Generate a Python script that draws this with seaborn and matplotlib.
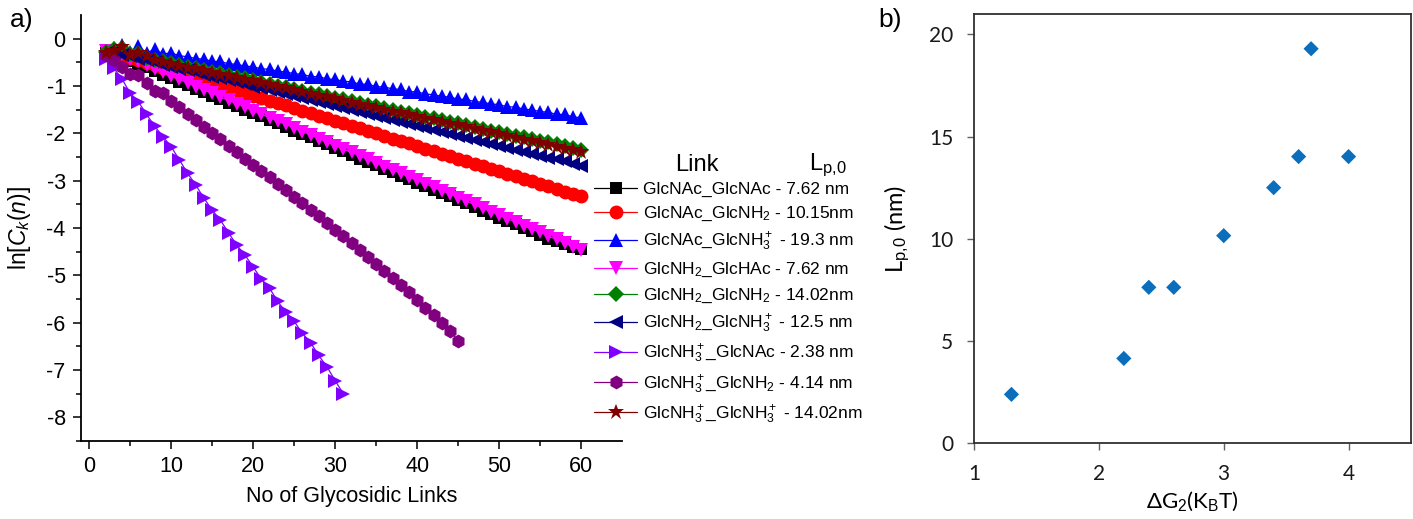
import numpy as np
import pandas as pd
import matplotlib
matplotlib.use("Agg")
import matplotlib.pyplot as plt
import seaborn as sns

# ---------------- data: panel a ----------------
n_links = list(range(2, 61))
n_short = list(range(2, 32))
n_mid = list(range(2, 46))

glcnac_glcnac = [-0.30, -0.30, -0.38, -0.47, -0.53, -0.60, -0.69, -0.76, -0.84, -0.91, -0.98, -1.06, -1.13, -1.20,
                 -1.28, -1.35, -1.42, -1.50, -1.57, -1.64, -1.72, -1.79, -1.86, -1.94, -2.01, -2.08, -2.16, -2.23,
                 -2.31, -2.38, -2.45, -2.53, -2.60, -2.67, -2.75, -2.82, -2.89, -2.97, -3.04, -3.11, -3.19, -3.26,
                 -3.33, -3.41, -3.48, -3.55, -3.63, -3.70, -3.78, -3.85, -3.92, -4.00, -4.07, -4.14, -4.22, -4.28,
                 -4.34, -4.40, -4.45]
glcnac_glcnh2 = [-0.28, -0.30, -0.35, -0.40, -0.45, -0.51, -0.56, -0.61, -0.67, -0.72, -0.77, -0.83, -0.88, -0.93,
                 -0.99, -1.04, -1.09, -1.15, -1.20, -1.25, -1.31, -1.36, -1.41, -1.47, -1.52, -1.57, -1.63, -1.68,
                 -1.73, -1.79, -1.84, -1.89, -1.95, -2.00, -2.05, -2.11, -2.16, -2.21, -2.27, -2.32, -2.37, -2.43,
                 -2.48, -2.53, -2.59, -2.64, -2.69, -2.75, -2.80, -2.85, -2.91, -2.96, -3.01, -3.07, -3.12, -3.17,
                 -3.23, -3.28, -3.33]
glcnac_glcnh3 = [-0.28, -0.20, -0.14, -0.28, -0.15, -0.30, -0.22, -0.32, -0.30, -0.36, -0.38, -0.42, -0.43, -0.48,
                 -0.48, -0.53, -0.54, -0.58, -0.59, -0.64, -0.64, -0.69, -0.70, -0.74, -0.75, -0.80, -0.80, -0.85,
                 -0.86, -0.90, -0.91, -0.96, -0.96, -1.01, -1.02, -1.06, -1.07, -1.12, -1.12, -1.17, -1.18, -1.22,
                 -1.23, -1.28, -1.28, -1.33, -1.34, -1.38, -1.39, -1.44, -1.44, -1.49, -1.50, -1.54, -1.55, -1.60,
                 -1.60, -1.65, -1.67]
glcnh2_glchac = [-0.25, -0.25, -0.33, -0.42, -0.48, -0.55, -0.64, -0.71, -0.79, -0.86, -0.93, -1.01, -1.08, -1.15,
                 -1.23, -1.30, -1.37, -1.45, -1.52, -1.59, -1.67, -1.74, -1.81, -1.89, -1.96, -2.03, -2.11, -2.18,
                 -2.26, -2.33, -2.40, -2.48, -2.55, -2.62, -2.70, -2.77, -2.84, -2.92, -2.99, -3.06, -3.14, -3.21,
                 -3.28, -3.36, -3.43, -3.50, -3.58, -3.65, -3.73, -3.80, -3.87, -3.95, -4.02, -4.09, -4.17, -4.24,
                 -4.31, -4.39, -4.46]
glcnh2_glcnh2 = [-0.28, -0.22, -0.20, -0.33, -0.30, -0.40, -0.44, -0.46, -0.52, -0.55, -0.59, -0.62, -0.66, -0.70,
                 -0.73, -0.77, -0.81, -0.84, -0.88, -0.92, -0.95, -0.99, -1.03, -1.06, -1.10, -1.14, -1.17, -1.21,
                 -1.25, -1.28, -1.32, -1.35, -1.39, -1.43, -1.46, -1.50, -1.54, -1.57, -1.61, -1.65, -1.68, -1.72,
                 -1.76, -1.79, -1.83, -1.87, -1.90, -1.94, -1.98, -2.01, -2.05, -2.08, -2.12, -2.16, -2.19, -2.23,
                 -2.27, -2.30, -2.34]
glcnh2_glcnh3 = [-0.30, -0.27, -0.35, -0.36, -0.42, -0.45, -0.50, -0.55, -0.59, -0.63, -0.67, -0.71, -0.76, -0.80,
                 -0.84, -0.88, -0.92, -0.96, -1.01, -1.05, -1.09, -1.13, -1.17, -1.22, -1.26, -1.30, -1.34, -1.38,
                 -1.42, -1.47, -1.51, -1.55, -1.59, -1.63, -1.67, -1.72, -1.76, -1.80, -1.84, -1.88, -1.93, -1.97,
                 -2.01, -2.05, -2.09, -2.13, -2.18, -2.22, -2.26, -2.30, -2.34, -2.39, -2.43, -2.47, -2.51, -2.55,
                 -2.59, -2.64, -2.68]
glcnh3_glcnac = [-0.42, -0.62, -0.85, -1.15, -1.33, -1.60, -1.85, -2.07, -2.28, -2.56, -2.84, -3.09, -3.37, -3.62,
                 -3.83, -4.10, -4.36, -4.57, -4.82, -5.08, -5.27, -5.55, -5.78, -5.97, -6.22, -6.42, -6.69, -6.93,
                 -7.22, -7.50]
glcnh3_glcnh2 = [-0.35, -0.45, -0.60, -0.75, -0.76, -0.93, -1.10, -1.15, -1.32, -1.45, -1.60, -1.72, -1.86, -1.99,
                 -2.12, -2.26, -2.39, -2.53, -2.66, -2.80, -2.93, -3.07, -3.20, -3.34, -3.47, -3.61, -3.75, -3.89,
                 -4.03, -4.17, -4.31, -4.46, -4.61, -4.76, -4.91, -5.06, -5.21, -5.36, -5.52, -5.68, -5.84, -6.00,
                 -6.17, -6.38]
glcnh3_glcnh3 = [-0.30, -0.25, -0.18, -0.35, -0.30, -0.36, -0.45, -0.50, -0.53, -0.57, -0.61, -0.64, -0.68, -0.72,
                 -0.76, -0.79, -0.83, -0.87, -0.90, -0.94, -0.98, -1.02, -1.05, -1.09, -1.13, -1.16, -1.20, -1.24,
                 -1.28, -1.31, -1.35, -1.39, -1.42, -1.46, -1.50, -1.54, -1.57, -1.61, -1.65, -1.69, -1.72, -1.76,
                 -1.80, -1.83, -1.87, -1.91, -1.95, -1.98, -2.02, -2.06, -2.09, -2.13, -2.17, -2.21, -2.24, -2.28,
                 -2.32, -2.35, -2.39]

link_labels = [
    "GlcNAc_GlcNAc - 7.62 nm",
    "GlcNAc_GlcNH$_2$ - 10.15nm",
    "GlcNAc_GlcNH$_3^+$ - 19.3 nm",
    "GlcNH$_2$_GlcHAc - 7.62 nm",
    "GlcNH$_2$_GlcNH$_2$ - 14.02nm",
    "GlcNH$_2$_GlcNH$_3^+$ - 12.5 nm",
    "GlcNH$_3^+$_GlcNAc - 2.38 nm",
    "GlcNH$_3^+$_GlcNH$_2$ - 4.14 nm",
    "GlcNH$_3^+$_GlcNH$_3^+$ - 14.02nm",
]
link_x = [n_links, n_links, n_links, n_links, n_links, n_links, n_short, n_mid, n_links]
link_y = [glcnac_glcnac, glcnac_glcnh2, glcnac_glcnh3, glcnh2_glchac, glcnh2_glcnh2,
          glcnh2_glcnh3, glcnh3_glcnac, glcnh3_glcnh2, glcnh3_glcnh3]
link_colors = ["#000000", "#FF0000", "#0000FF", "#FF00FF", "#008000",
               "#000080", "#8000FF", "#800080", "#800000"]
link_markers = ["s", "o", "^", "v", "D", "<", ">", "h", "*"]

# ---------------- data: panel b ----------------
delta_g2 = [1.3, 2.2, 2.4, 2.6, 3.0, 3.4, 3.6, 3.7, 4.0]
lp0 = [2.38, 4.14, 7.62, 7.62, 10.15, 12.5, 14.02, 19.3, 14.02]

# ---------------- style ----------------
sns.set_style("ticks")
plt.rcParams["font.family"] = ["Liberation Sans", "DejaVu Sans"]
plt.rcParams["mathtext.fontset"] = "custom"
plt.rcParams["mathtext.rm"] = "Liberation Sans"
plt.rcParams["mathtext.it"] = "Liberation Sans:italic"
plt.rcParams["mathtext.bf"] = "Liberation Sans:bold"
plt.rcParams["text.color"] = "black"
plt.rcParams["axes.labelcolor"] = "black"

fig = plt.figure(figsize=(14.13, 5.19), dpi=100)

# ---------------- panel a ----------------
ax = fig.add_axes([0.0573, 0.150, 0.3830, 0.821])
msizes = [9, 10, 10.5, 10.5, 8, 10.5, 10.5, 10, 12]
for xs, ys, lab, col, mk, ms in zip(link_x, link_y, link_labels, link_colors, link_markers, msizes):
    df = pd.DataFrame({"n": xs, "lnC": ys})
    sns.lineplot(data=df, x="n", y="lnC", ax=ax, color=col, marker=mk, markersize=ms,
                 markeredgewidth=0, linewidth=0.9, label=lab)

ax.set_xlim(-1, 65)
ax.set_ylim(-8.5, 0.5)
ax.set_xticks(range(0, 61, 10))
ax.set_xticks(range(5, 61, 10), minor=True)
ax.set_yticks(range(-8, 1))
ax.set_yticks(np.arange(-8.5, 0.5, 1.0), minor=True)
ax.set_yticklabels([str(v) for v in range(-8, 1)])
ax.tick_params(which="major", direction="out", length=6, width=1.1, labelsize=15.5, pad=5,
               color="black", labelcolor="black")
ax.tick_params(which="minor", direction="out", length=3.5, width=1.1, color="black")
for side in ["left", "bottom"]:
    ax.spines[side].set_linewidth(1.3)
    ax.spines[side].set_color("#000000")
ax.spines["top"].set_visible(False)
ax.spines["right"].set_visible(False)
ax.set_xlabel("No of Glycosidic Links", fontsize=15.5, labelpad=6)
ax.set_ylabel(r"ln[$C_k$($n$)]", fontsize=16.5, labelpad=10)

leg = ax.legend(loc="upper left", bbox_to_anchor=(594 / 1413, 1 - 182 / 519),
                bbox_transform=fig.transFigure, frameon=False, fontsize=12.5,
                handlelength=2.5, handletextpad=0.3, labelspacing=0.44, borderpad=0,
                borderaxespad=0)
fig.text(697 / 1413, 1 - 165 / 519, "Link", fontsize=17, ha="center", va="center")
fig.text(828 / 1413, 1 - 165 / 519, r"L$_{\mathrm{p}{,}\mathrm{0}}$", fontsize=17, ha="center", va="center")

fig.text(10 / 1413, 1 - 20 / 519, "a)", fontsize=19, ha="left", va="center")

# ---------------- panel b ----------------
bx = fig.add_axes([974 / 1413, 76 / 519, 437 / 1413, 429 / 519])
sns.scatterplot(x=delta_g2, y=lp0, ax=bx, marker="D", s=60, color="#0A6EBD", edgecolor="none")
bx.set_xlim(1, 4.5)
bx.set_ylim(0, 21)
bx.set_xticks([1, 2, 3, 4])
bx.set_yticks([0, 5, 10, 15, 20])
for side in ["left", "bottom", "top", "right"]:
    bx.spines[side].set_visible(True)
    bx.spines[side].set_linewidth(1.3)
    bx.spines[side].set_color("#303030")
bx.tick_params(direction="out", length=5, width=1.0, color="#606060", labelsize=15,
               labelcolor="#1a1a1a", pad=10)
for t in bx.get_xticklabels() + bx.get_yticklabels():
    t.set_family(["Lato", "DejaVu Sans"])
bx.set_xlabel(r"ΔG$_2$(K$_\mathrm{B}$T)", fontsize=16, family=["Lato", "DejaVu Sans"], labelpad=4)
bx.set_ylabel(r"L$_{\mathrm{p}{,}\mathrm{0}}$ (nm)", fontsize=17, family=["Lato", "DejaVu Sans"], labelpad=12)

fig.text(878 / 1413, 1 - 20 / 519, "b)", fontsize=19, ha="left", va="center")

fig.savefig("out.png", dpi=100)
